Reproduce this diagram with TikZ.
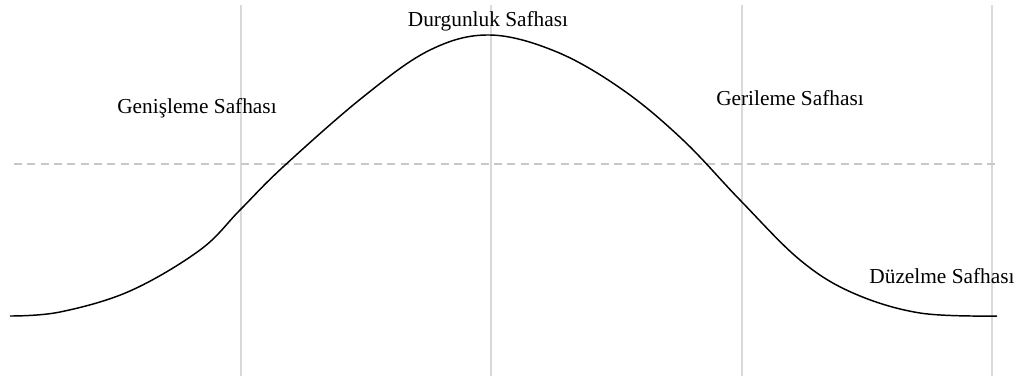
\documentclass[tikz,border=0pt]{standalone}
\usepackage{fontspec}
\setmainfont{Liberation Serif}
\begin{document}
\begin{tikzpicture}[x=0.75pt, y=-0.75pt, every node/.style={font=\fontsize{16}{19}\selectfont, inner sep=0pt}]
            \useasboundingbox (0,0) rectangle (1024,376);

            % ızgara
            \foreach \gx in {241,491,742,992}
                \draw[black!15, line width=0.9pt] (\gx,5) -- (\gx,376);
            \draw[black!22, line width=0.8pt, dash pattern=on 6pt off 4pt] (14,164) -- (999,164);

            % konjonktür eğrisi
            \draw[black, line width=1.1pt] plot[smooth, tension=0.6] coordinates {
                (10,316) (60,312) (130,291) (200,250) (240,210) (283,167) (363,97) (430,50)
                (490,35) (557,52) (623,90) (683,140) (740,200) (800,260) (853,293)
                (920,313) (997,316)};

            % safhalar
            \node (durgunluk) at (488,21) {Durgunluk Safhası};
            \node (genisleme) at (197,108) {Genişleme Safhası};
            \node (gerileme) at (790,98) {Gerileme Safhası};
            \node (duzelme) at (942,276) {Düzelme Safhası};
        \end{tikzpicture}
\end{document}
